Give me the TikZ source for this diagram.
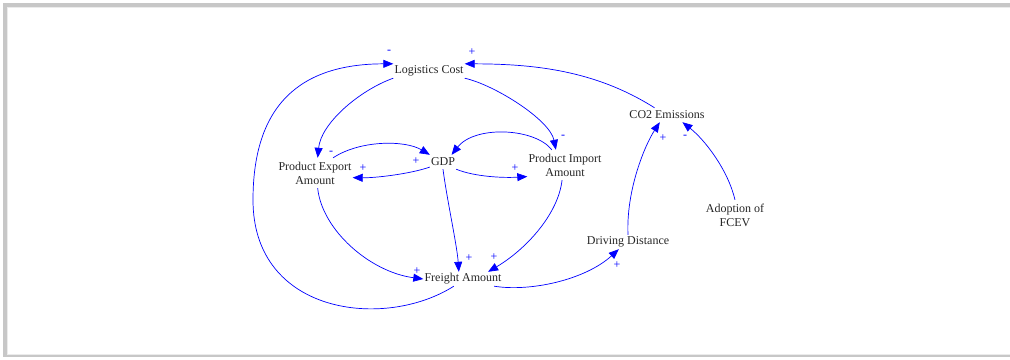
\documentclass[tikz,border=0pt]{standalone}
\usepackage{fontspec}
\setmainfont{Liberation Serif}
\usetikzlibrary{arrows.meta,calc}
\begin{document}
\begin{tikzpicture}[x=1pt,y=-1pt,
  var/.style={inner xsep=1pt, inner ysep=0pt, minimum height=14pt,
    font=\fontsize{12}{14}\selectfont, text=black!85, align=center},
  var2/.style={var, minimum height=30pt},
  link/.style={draw=blue, line width=0.7pt, -{Triangle[length=10pt,width=8pt]}},
  pol/.style={text=blue, font=\fontsize{12}{14}\selectfont, inner sep=0pt}]
\useasboundingbox (0,0) rectangle (1010,359);
% frame
\fill[black!22] (3,3) rectangle (1010,7);
\fill[black!22] (3,3) rectangle (7,357);
\fill[black!22] (3,355) rectangle (1010,357);
\fill[black!8] (7,7) rectangle (1010,8);
\fill[black!8] (7,7) rectangle (8,355);
\fill[black!8] (7,354) rectangle (1010,355);
% variables
\node[var]  (lc)  at (429,71)  {Logistics Cost};
\node[var]  (co2) at (667,115) {CO2 Emissions};
\node[var2] (pea) at (315,173) {Product Export\\Amount};
\node[var]  (gdp) at (443,162) {GDP};
\node[var2] (pia) at (565,165) {Product Import\\Amount};
\node[var]  (fa)  at (463,279) {Freight Amount};
\node[var]  (dd)  at (628,242) {Driving Distance};
\node[var2] (af)  at (735,215) {Adoption of\\FCEV};
% links
\draw[link] (co2.150) .. controls (595,70) and (533,64) .. (lc.north east);
\draw[link] (fa.218) .. controls (385,330) and (253,315) .. (253,200)
            .. controls (253,105) and (300,64) .. (lc.north west);
\draw[link] (lc.south west) .. controls (360,90) and (321,123) .. (pea.80);
\draw[link] (lc.south east) .. controls (495,85) and (550,120) .. (pia.121);
\draw[link] (pea.40) .. controls (360,140) and (405,140) .. (gdp.north west);
\draw[link] (gdp.201) .. controls (410,174) and (375,178) .. (pea.-7);
\draw[link] (gdp.south east) .. controls (475,177) and (505,178) .. (pia.197);
\draw[link] (pia.131) .. controls (535,128) and (475,125) .. (gdp.40);
\draw[link] (gdp.south) .. controls (447,200) and (457,245) .. (fa.120);
\draw[link] (pia.-101) .. controls (558,215) and (525,250) .. (fa.16);
\draw[link] (pea.-80) .. controls (322,230) and (370,272) .. (fa.west);
\draw[link] (fa.-13) .. controls (530,292) and (585,280) .. (dd.218);
\draw[link] (dd.north) .. controls (626,190) and (645,145) .. (co2.-135);
\draw[link] (af.north) .. controls (728,170) and (705,140) .. (co2.-25);
% polarities
\node[pol] (p1)  at (389,52)  {-};
\node[pol] (p2)  at (472,52)  {+};
\node[pol] (p3)  at (331,153) {-};
\node[pol] (p4)  at (416,161) {+};
\node[pol] (p5)  at (363,168) {+};
\node[pol] (p6)  at (515,168) {+};
\node[pol] (p7)  at (563,137) {-};
\node[pol] (p8)  at (663,138) {+};
\node[pol] (p9)  at (685,137) {-};
\node[pol] (p10) at (469,258) {+};
\node[pol] (p11) at (494,257) {+};
\node[pol] (p12) at (417,271) {+};
\node[pol] (p13) at (617,265) {+};
\end{tikzpicture}
\end{document}
